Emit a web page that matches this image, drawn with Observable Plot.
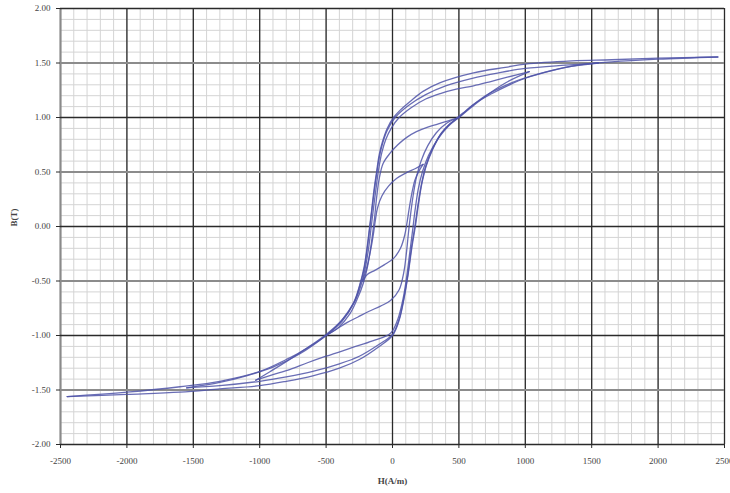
<!DOCTYPE html>
<html>
<head>
<meta charset="utf-8">
<script src="https://cdn.jsdelivr.net/npm/d3@7"></script>
<script src="https://cdn.jsdelivr.net/npm/@observablehq/plot@0.6"></script>
<style>
  html, body { margin: 0; padding: 0; background: #ffffff; }
  #chart { width: 730px; height: 493px; }
</style>
</head>
<body>
<div id="chart"></div>
<script>
// Tick values
const xTicks = [-2500, -2000, -1500, -1000, -500, 0, 500, 1000, 1500, 2000, 2500];
const yTicks = [-2, -1.5, -1, -0.5, 0, 0.5, 1, 1.5, 2];

// Outer loop (H in A/m, B in T)
const outerUp = [[-2450,-1.56],[-2000,-1.54],[-1600,-1.52],[-1300,-1.49],[-1000,-1.46],[-800,-1.42],[-600,-1.37],[-400,-1.3],[-250,-1.22],[-100,-1.1],[0,-1.0],[50,-0.86],[90,-0.64],[120,-0.42],[145,-0.2],[172,0.0],[195,0.2],[222,0.4],[255,0.56],[300,0.7],[360,0.84],[430,0.94],[500,1.0],[610,1.12],[750,1.22],[865,1.29],[1000,1.36],[1200,1.43],[1400,1.48],[1650,1.51],[2000,1.535],[2450,1.555]];
const outerDown = [[2450,1.555],[2000,1.545],[1650,1.53],[1350,1.52],[1000,1.49],[850,1.46],[610,1.41],[360,1.32],[230,1.24],[135,1.15],[60,1.07],[8,1.0],[-40,0.9],[-75,0.78],[-100,0.66],[-120,0.5],[-140,0.33],[-158,0.14],[-172,0.0],[-190,-0.18],[-215,-0.38],[-250,-0.55],[-290,-0.69],[-390,-0.87],[-500,-1.0],[-690,-1.15],[-800,-1.22],[-1000,-1.33],[-1300,-1.42],[-1600,-1.47],[-2000,-1.52],[-2450,-1.56]];

// Loop with peak H about 1550
const loop2Down = [[1550,1.50],[1300,1.48],[1000,1.45],[800,1.41],[600,1.36],[400,1.29],[250,1.21],[120,1.11],[20,1.0],[-40,0.88],[-75,0.76],[-100,0.63],[-122,0.46],[-142,0.28],[-160,0.1],[-170,0.0],[-188,-0.18],[-212,-0.38],[-248,-0.55],[-290,-0.7],[-380,-0.87],[-500,-1.0],[-700,-1.17],[-900,-1.29],[-1100,-1.37],[-1300,-1.43],[-1550,-1.48]];
const loop2Up = [[-1550,-1.48],[-1300,-1.46],[-1000,-1.42],[-800,-1.38],[-600,-1.33],[-400,-1.26],[-250,-1.19],[-100,-1.08],[0,-0.99],[50,-0.85],[88,-0.64],[118,-0.42],[142,-0.2],[168,0.0],[192,0.2],[220,0.4],[252,0.56],[300,0.71],[370,0.86],[450,0.96],[550,1.06],[700,1.2],[900,1.32],[1100,1.4],[1300,1.46],[1550,1.5]];

// Loop with peak H about 1030
const loop3Down = [[1030,1.42],[865,1.37],[740,1.33],[610,1.29],[480,1.26],[360,1.22],[250,1.17],[140,1.09],[50,1.0],[-10,0.9],[-50,0.8],[-80,0.68],[-105,0.52],[-125,0.34],[-145,0.15],[-160,0.0],[-180,-0.2],[-205,-0.38],[-240,-0.55],[-290,-0.7],[-380,-0.86],[-500,-0.99],[-650,-1.12],[-800,-1.24],[-920,-1.33],[-1030,-1.41]];
const loop3Up = [[-1030,-1.41],[-900,-1.36],[-770,-1.31],[-640,-1.25],[-500,-1.19],[-300,-1.11],[-150,-1.05],[-15,-0.98],[40,-0.85],[80,-0.66],[108,-0.45],[130,-0.24],[150,-0.05],[170,0.15],[195,0.35],[225,0.5],[270,0.65],[340,0.8],[420,0.92],[500,1.0],[620,1.12],[740,1.23],[870,1.33],[1030,1.42]];

// Loop with peak H about 500
const loop4Down = [[500,1.0],[420,0.97],[340,0.94],[260,0.91],[180,0.87],[110,0.82],[40,0.75],[-20,0.67],[-70,0.58],[-100,0.44],[-120,0.26],[-135,0.08],[-148,-0.05],[-165,-0.2],[-190,-0.38],[-220,-0.52],[-260,-0.65],[-320,-0.8],[-410,-0.93],[-500,-1.0]];
const loop4Up = [[-500,-1.0],[-420,-0.94],[-340,-0.88],[-260,-0.83],[-180,-0.78],[-90,-0.73],[-15,-0.68],[50,-0.58],[85,-0.42],[105,-0.24],[120,-0.06],[135,0.1],[155,0.28],[180,0.45],[215,0.6],[265,0.74],[330,0.86],[410,0.95],[500,1.0]];

// Loop with peak H about 230
const loop5Down = [[230,0.57],[170,0.53],[100,0.49],[30,0.44],[-30,0.37],[-80,0.28],[-113,0.17],[-130,0.05],[-145,-0.08],[-165,-0.22],[-190,-0.36],[-225,-0.5]];
const loop5Up = [[-225,-0.5],[-190,-0.44],[-130,-0.40],[-60,-0.35],[10,-0.29],[60,-0.2],[92,-0.08],[110,0.04],[125,0.16],[145,0.3],[170,0.43],[200,0.51],[230,0.57]];

const branches = {outerUp, outerDown, loop2Down, loop2Up, loop3Down, loop3Up, loop4Down, loop4Up, loop5Down, loop5Up};
const rows = Object.entries(branches).flatMap(([name, pts]) => pts.map(([H, B]) => ({branch: name, H, B})));

const minorX = d3.range(-25, 26).map(i => i * 100);
const minorY = d3.range(-20, 21).map(i => i / 10);
const greyMajorY = new Set([1.5, 0.5, -0.5, -1.5]);

const chart = Plot.plot({
  width: 730,
  height: 493,
  marginLeft: 60,
  marginRight: 6,
  marginTop: 8,
  marginBottom: 49,
  x: {domain: [-2500, 2500]},
  y: {domain: [-2, 2]},
  style: {fontFamily: "'Liberation Serif', serif", fontSize: "9px", color: "#444", background: "#ffffff"},
  marks: [
    Plot.ruleX(minorX, {stroke: "#d4d4d4", strokeWidth: 1}),
    Plot.ruleY(minorY, {stroke: "#d4d4d4", strokeWidth: 1}),
    Plot.ruleX(xTicks, {stroke: d => d === -2500 ? "#8a8a8a" : "#2a2a2a", strokeWidth: d => d === -2500 ? 2.2 : 1.3}),
    Plot.ruleY(yTicks, {stroke: d => greyMajorY.has(d) ? "#8c8c8c" : "#2a2a2a", strokeWidth: d => greyMajorY.has(d) ? 2.2 : 1.3}),
    Plot.line(rows, {x: "H", y: "B", z: "branch", stroke: "#4f53a8", strokeWidth: 1.3, strokeOpacity: 0.85, curve: "catmull-rom"}),
    Plot.axisX(xTicks, {tickSize: 4, tickPadding: 9, tickFormat: d => String(d), label: null, stroke: "#2a2a2a"}),
    Plot.axisY(yTicks, {tickSize: 4, tickPadding: 6, tickFormat: d => d.toFixed(2), label: null, stroke: "#2a2a2a"}),
    Plot.text(["H(A/m)"], {frameAnchor: "bottom", dy: 39, fontWeight: "bold", fontSize: 9, fill: "#444"}),
    Plot.text(["B(T)"], {frameAnchor: "left", dx: -46, rotate: -90, fontWeight: "bold", fontSize: 9, fill: "#444"})
  ]
});
document.getElementById("chart").appendChild(chart);
</script>
</body>
</html>
